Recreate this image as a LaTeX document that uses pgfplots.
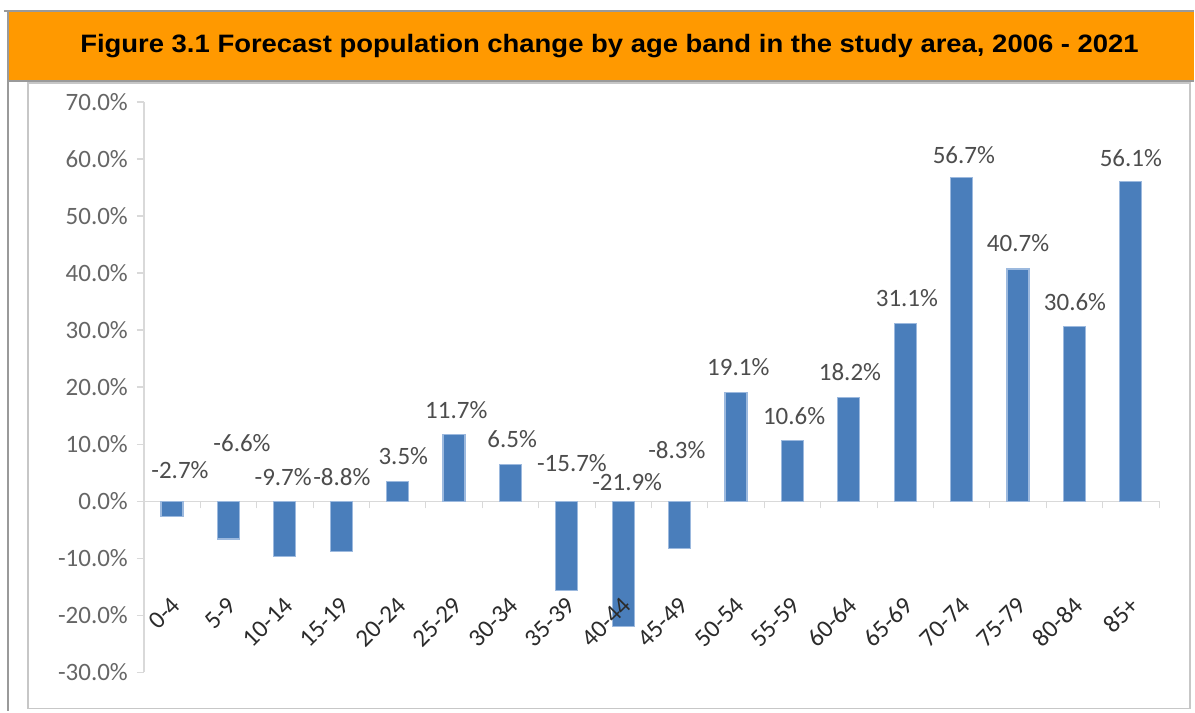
\documentclass[border=0pt]{standalone}
\usepackage{pgfplots}
\pgfplotsset{compat=1.18}
\usepackage{pgfplotstable}
\usepackage{fontspec}
\setmainfont{Carlito}
\newfontfamily\titlefont{Liberation Sans}
\definecolor{barblue}{HTML}{4A7EBB}
\definecolor{baredge}{HTML}{9CB9DE}
\definecolor{bannerorange}{HTML}{FF9900}
\definecolor{tickgrey}{HTML}{666666}
\definecolor{labgrey}{HTML}{4D4D4D}
\definecolor{catgrey}{HTML}{2B2B2B}
\definecolor{axgrey}{HTML}{D9D9D9}
\definecolor{framegrey}{HTML}{9A9A9A}

\pgfplotstableread{
x val lx ly
0 -2.7 0.14 5.4
1 -6.6 1.24 10.2
2 -9.7 1.97 4.2
3 -8.8 3.01 4.2
4 3.5 4.10 7.9
5 11.7 5.04 15.9
6 6.5 6.03 10.9
7 -15.7 7.09 6.7
8 -21.9 8.07 3.4
9 -8.3 8.95 8.9
10 19.1 10.04 23.5
11 10.6 11.03 14.9
12 18.2 12.02 22.6
13 31.1 13.03 35.6
14 56.7 14.04 60.6
15 40.7 15.00 45.2
16 30.6 16.01 34.9
17 56.1 17.00 60.2
}\datatable

\pgfplotstableread{
cx cy cat
0.07 -17.5 0-4
1.07 -17.5 5-9
2.07 -17.5 10-14
3.07 -17.5 15-19
4.07 -17.5 20-24
5.07 -17.5 25-29
6.07 -17.5 30-34
7.07 -17.5 35-39
8.07 -17.5 40-44
9.07 -17.5 45-49
10.07 -17.5 50-54
11.07 -17.5 55-59
12.07 -17.5 60-64
13.07 -17.5 65-69
14.07 -17.5 70-74
15.07 -17.5 75-79
16.07 -17.5 80-84
17.07 -17.5 85+
}\cattable

\begin{document}
\begin{tikzpicture}
% page background
\fill[white] (0pt,0pt) rectangle (597.5pt,-356pt);
% outer grey frame lines
\draw[framegrey, line width=1pt] (2pt,-5.5pt) -- (597.5pt,-5.5pt);
\draw[framegrey, line width=1pt] (4pt,-5.5pt) -- (4pt,-356pt);
% orange banner
\fill[bannerorange] (4.5pt,-6pt) rectangle (597.5pt,-40pt);
\draw[framegrey, line width=0.8pt] (4.5pt,-40.6pt) -- (597.5pt,-40.6pt);
% inner chart frame
\draw[axgrey!80!gray, line width=0.8pt] (14pt,-41.5pt) rectangle (595.5pt,-354.5pt);
% title
\node[font=\titlefont\bfseries\fontsize{12.6pt}{15pt}\selectfont, text=black, inner sep=0pt, anchor=base]
  at (305pt,-26.5pt) {\scalebox{1.09}[1]{Figure 3.1 Forecast population change by age band in the study area, 2006 - 2021}};

\begin{axis}[
  at={(72pt,-336.5pt)}, anchor=south west,
  scale only axis, width=508pt, height=285.5pt,
  xmin=-0.5, xmax=17.5, ymin=-30, ymax=70,
  axis y line*=left, axis x line*=middle,
  axis line style={axgrey, line width=0.7pt},
  ytick={-30,-20,...,70},
  yticklabel={\pgfmathprintnumber[fixed, fixed zerofill, precision=1]{\tick}\%},
  /pgf/number format/assume math mode=true,
  yticklabel style={font=\fontsize{12.5pt}{14pt}\selectfont, text=tickgrey, xshift=-1pt},
  xtick={-0.5,0.5,...,17.5}, xticklabels={},
  tick align=outside,
  y tick style={axgrey, line width=0.7pt},
  x tick style={axgrey, line width=0.5pt},
  major tick length=3.5pt,
  clip=false,
]
\addplot[ybar, bar width=11pt, fill=barblue, draw=baredge, line width=0.6pt]
  table[x=x, y=val] {\datatable};

\addplot[only marks, mark=*, mark size=0pt, mark options={draw=none, fill=none},
  point meta=explicit symbolic,
  nodes near coords={\pgfplotspointmeta\%},
  every node near coord/.append style={anchor=center, inner sep=0pt,
    font=\fontsize{12.5pt}{14pt}\selectfont, text=labgrey}]
  table[x=lx, y=ly, meta=val] {\datatable};

\addplot[only marks, mark=*, mark size=0pt, mark options={draw=none, fill=none},
  point meta=explicit symbolic,
  nodes near coords={\pgfplotspointmeta},
  every node near coord/.append style={anchor=east, rotate=45, inner sep=0pt,
    font=\fontsize{12.5pt}{14pt}\selectfont, text=catgrey}]
  table[x=cx, y=cy, meta=cat] {\cattable};
\end{axis}
\end{tikzpicture}
\end{document}
